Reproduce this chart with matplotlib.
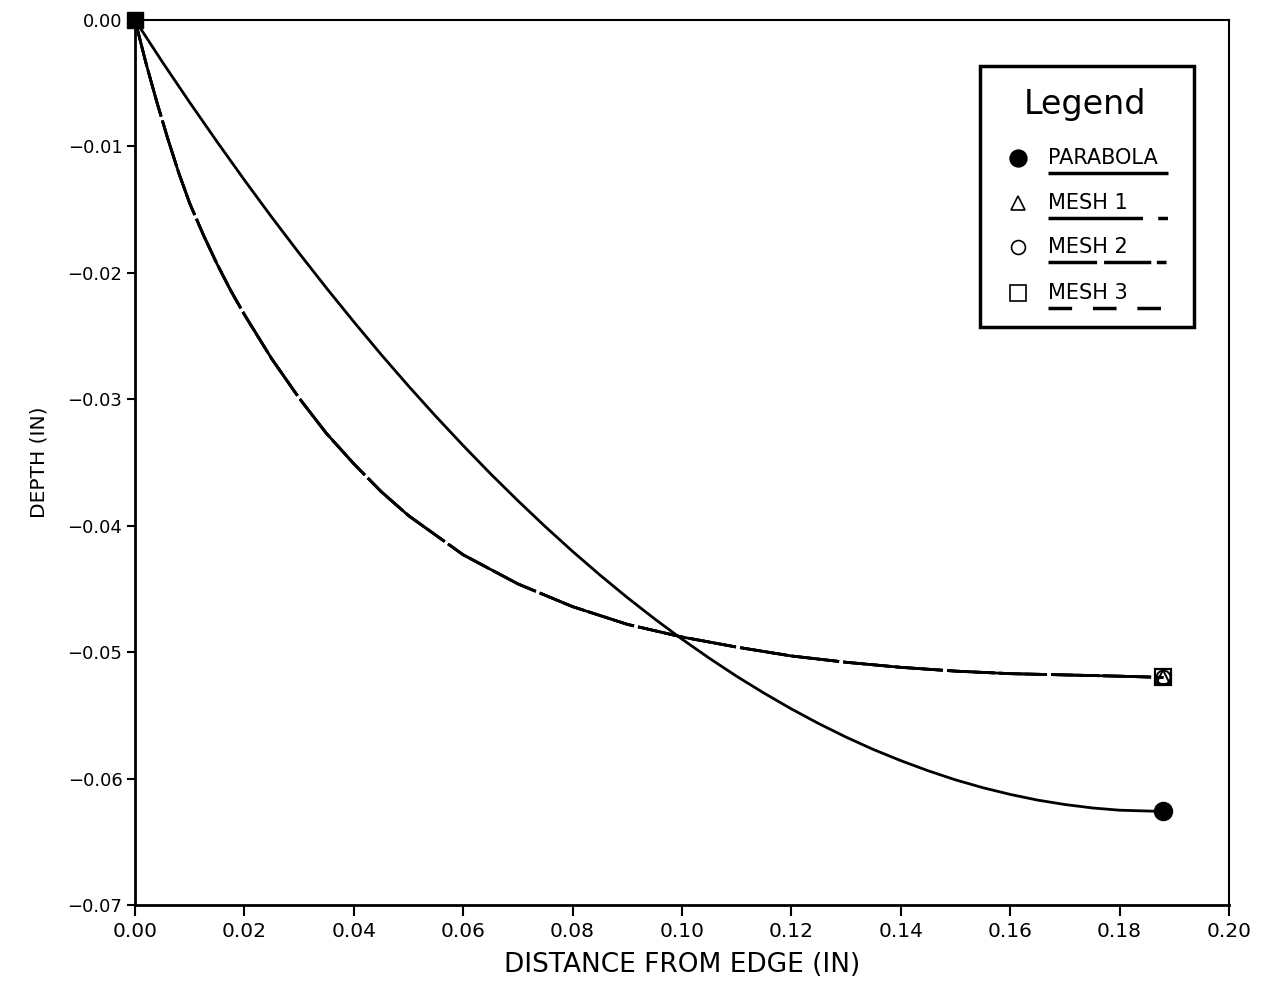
import matplotlib
matplotlib.use("Agg")
import matplotlib.pyplot as plt
from matplotlib.patches import Rectangle
from matplotlib.lines import Line2D

# values
x_parabola = [0.0, 0.005, 0.01, 0.015, 0.02, 0.025, 0.03, 0.035, 0.04, 0.045,
              0.05, 0.055, 0.06, 0.065, 0.07, 0.075, 0.08, 0.085, 0.09, 0.095,
              0.10, 0.105, 0.11, 0.115, 0.12, 0.125, 0.13, 0.135, 0.14, 0.145,
              0.15, 0.155, 0.16, 0.165, 0.17, 0.175, 0.18, 0.188]
y_parabola = [0.0, -0.00332, -0.00652, -0.00963, -0.01266, -0.0156, -0.01844,
              -0.0212, -0.02387, -0.02646, -0.02895, -0.03135, -0.03366, -0.03589,
              -0.03802, -0.04007, -0.04203, -0.0439, -0.04568, -0.04737, -0.04897,
              -0.05048, -0.05191, -0.05324, -0.05449, -0.05565, -0.05672,
              -0.0577, -0.05858, -0.05938, -0.0601, -0.06072, -0.06125,
              -0.0617, -0.06205, -0.06232, -0.0625, -0.0626]

x_mesh = [0.0, 0.002, 0.004, 0.006, 0.008, 0.01, 0.0125, 0.015, 0.0175, 0.02,
          0.025, 0.03, 0.035, 0.04, 0.045, 0.05, 0.06, 0.07, 0.08, 0.09, 0.10,
          0.11, 0.12, 0.13, 0.14, 0.15, 0.16, 0.17, 0.18, 0.188]
y_mesh1 = [0.0, -0.0034, -0.0065, -0.0094, -0.0121, -0.0145, -0.0170, -0.0193,
           -0.0214, -0.0233, -0.0268, -0.0299, -0.0327, -0.0351, -0.0373, -0.0392,
           -0.0423, -0.0446, -0.0464, -0.0478, -0.0488, -0.0496, -0.0503, -0.0508,
           -0.0512, -0.0515, -0.0517, -0.0518, -0.0519, -0.0520]
y_mesh2 = list(y_mesh1)
y_mesh3 = list(y_mesh1)

x_ticks = [0.00, 0.02, 0.04, 0.06, 0.08, 0.10, 0.12, 0.14, 0.16, 0.18, 0.20]
y_ticks = [0.00, -0.01, -0.02, -0.03, -0.04, -0.05, -0.06, -0.07]

plt.rcParams['font.family'] = ['DejaVu Sans']
plt.rcParams['lines.scale_dashes'] = False
plt.rcParams['lines.solid_capstyle'] = 'round'

fig = plt.figure(figsize=(12.64, 9.89), dpi=100)
ax = fig.add_axes([0.1068, 0.0849, 0.8655, 0.8949])

# mesh curves (overlapping dashed lines, gaps line up every 75 pt)
ax.plot(x_mesh, y_mesh1, color='black', lw=2.0, linestyle=(0, (72, 3)),
        marker='^', markevery=[-1], ms=10, mfc='none', mec='black', mew=1.4)
ax.plot(x_mesh, y_mesh2, color='black', lw=2.0, linestyle=(0, (34.5, 3)),
        marker='o', markevery=[-1], ms=10, mfc='none', mec='black', mew=1.4)
ax.plot(x_mesh, y_mesh3, color='black', lw=2.0, linestyle=(0, (15.75, 3)),
        marker='s', markevery=[-1], ms=12, mfc='none', mec='black', mew=1.6)
# parabola
ax.plot(x_parabola, y_parabola, color='black', lw=2.0, marker='o',
        markevery=[-1], ms=13, mfc='black', mec='black')
# filled square where all the curves start
ax.plot(x_mesh[:1], y_mesh3[:1], marker='s', ms=11, color='black', ls='none',
        clip_on=False, zorder=4)

ax.set_xlim(0.0, 0.20)
ax.set_ylim(-0.07, 0.0)
ax.set_xticks(x_ticks)
ax.set_xticklabels([f"{v:.2f}" for v in x_ticks])
ax.set_yticks(y_ticks)
ax.set_yticklabels(["0.00" if v == 0 else f"{v:.2f}".replace('-', '\u2212') for v in y_ticks])

ax.tick_params(axis='x', direction='out', length=8, width=1.5, labelsize=14.5, pad=4)
ax.tick_params(axis='y', direction='out', length=6, width=1.5, labelsize=13, pad=3)
for side in ['left', 'bottom']:
    ax.spines[side].set_linewidth(2.0)
for side in ['top', 'right']:
    ax.spines[side].set_linewidth(1.5)

ax.set_xlabel('DISTANCE FROM EDGE (IN)', fontsize=19, labelpad=8)
ax.set_ylabel('DEPTH (IN)', fontsize=14.5, labelpad=14)

# hand-drawn legend box
ax.add_patch(Rectangle((0.7724, 0.653), 0.1956, 0.295, transform=ax.transAxes,
                       fill=False, lw=2.5, edgecolor='black', zorder=5))
ax.text(0.868, 0.904, 'Legend', transform=ax.transAxes, fontsize=24,
        ha='center', va='center', zorder=6)

labels = ['PARABOLA', 'MESH 1', 'MESH 2', 'MESH 3']
markers = [('o', 'black', 12), ('^', 'none', 10), ('o', 'none', 10), ('s', 'none', 11)]
dashes = ['-', (0, (68, 11, 7, 100)), (0, (35, 5, 34, 4, 7, 60)), (0, (17, 15))]
text_y = [0.844, 0.793, 0.743, 0.692]
for lab, (mk, fc, ms), ds, ty in zip(labels, markers, dashes, text_y):
    ax.add_line(Line2D([0.8071], [ty], transform=ax.transAxes, marker=mk, ms=ms,
                       mfc=fc, mec='black', mew=1.2, ls='none', zorder=6))
    ax.text(0.8346, ty, lab, transform=ax.transAxes, fontsize=15,
            ha='left', va='center', zorder=6)
    ax.add_line(Line2D([0.8346, 0.944], [ty - 0.017, ty - 0.017], transform=ax.transAxes,
                       color='black', lw=2.5, linestyle=ds, solid_capstyle='butt',
                       dash_capstyle='butt', zorder=6))

fig.savefig('out.png', dpi=100)
